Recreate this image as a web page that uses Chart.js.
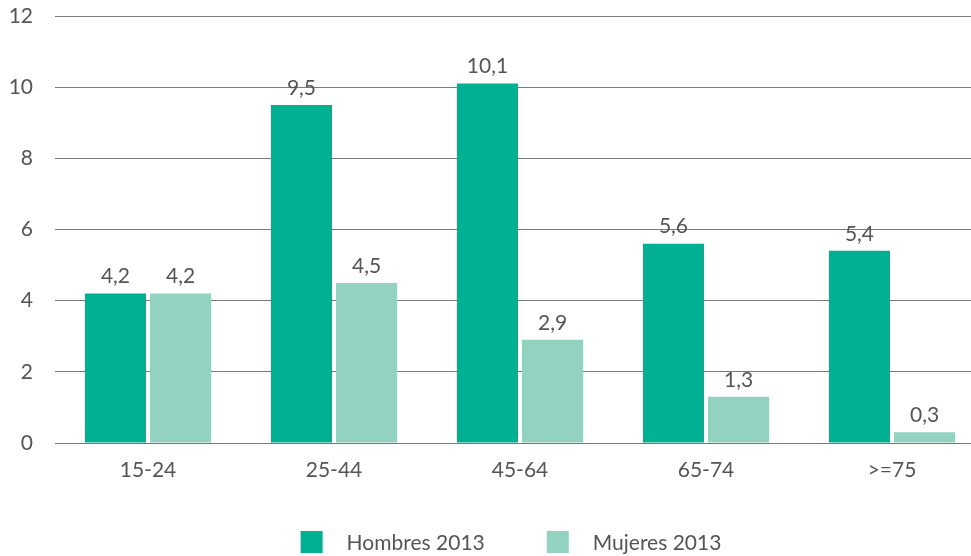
<!DOCTYPE html>
<html>
<head>
<meta charset="utf-8">
<script src="https://cdn.jsdelivr.net/npm/chart.js@4/dist/chart.umd.min.js"></script>
<style>
html,body{margin:0;padding:0;background:#fff;overflow:hidden;}
#wrap{width:1000px;height:556px;position:relative;}
</style>
</head>
<body>
<div id="wrap"><canvas id="c"></canvas></div>
<script>
const categories = ['15-24', '25-44', '45-64', '65-74', '>=75'];
const hombres2013 = [4.2, 9.5, 10.1, 5.6, 5.4];
const mujeres2013 = [4.2, 4.5, 2.9, 1.3, 0.3];
const seriesNames = ['Hombres 2013', 'Mujeres 2013'];
const yTicks = [0, 2, 4, 6, 8, 10, 12];

const FONT = 'Lato, "Noto Sans", sans-serif';
const FS = 21;
const TXT = '#555555';
const COLORS = ['#00b092', '#93d2c1'];

const fmt = v => String(v).replace('.', ',');

const valueLabels = {
  id: 'valueLabels',
  afterDatasetsDraw(chart) {
    const ctx = chart.ctx;
    ctx.save();
    ctx.font = FS + 'px ' + FONT;
    ctx.fillStyle = TXT;
    ctx.textAlign = 'center';
    ctx.textBaseline = 'middle';
    chart.data.datasets.forEach((ds, i) => {
      chart.getDatasetMeta(i).data.forEach((bar, j) => {
        ctx.fillText(fmt(ds.data[j]), bar.x, bar.y - 17);
      });
    });
    ctx.restore();
  }
};

const customLegend = {
  id: 'customLegend',
  afterDraw(chart) {
    const ctx = chart.ctx;
    ctx.save();
    ctx.font = FS + 'px ' + FONT;
    ctx.textBaseline = 'middle';
    const box = 22, gap = 24, itemGap = 62;
    const items = chart.data.datasets.map(ds => ({ label: ds.label, color: ds.backgroundColor, w: box + gap + ctx.measureText(ds.label).width }));
    const total = items.reduce((s, it) => s + it.w, 0) + itemGap * (items.length - 1);
    let x = (chart.chartArea.left + chart.chartArea.right) / 2 - 9 - total / 2;
    const cy = 542;
    items.forEach(it => {
      ctx.fillStyle = it.color;
      ctx.fillRect(x, cy - box / 2, box, box);
      ctx.fillStyle = TXT;
      ctx.textAlign = 'left';
      ctx.fillText(it.label, x + box + gap, cy + 1);
      x += it.w + itemGap;
    });
    ctx.restore();
  }
};

new Chart(document.getElementById('c'), {
  type: 'bar',
  data: {
    labels: categories,
    datasets: [
      { label: seriesNames[0], data: hombres2013, backgroundColor: COLORS[0] },
      { label: seriesNames[1], data: mujeres2013, backgroundColor: COLORS[1] }
    ]
  },
  options: {
    responsive: true,
    maintainAspectRatio: false,
    animation: false,
    layout: { padding: { top: 16, right: 15, bottom: 73, left: 0 } },
    plugins: {
      legend: { display: false },
      tooltip: { enabled: false }
    },
    datasets: { bar: { categoryPercentage: 0.70, barPercentage: 0.94 } },
    scales: {
      x: {
        grid: { display: false, drawTicks: false },
        border: { display: false },
        ticks: { color: TXT, font: { family: FONT, size: FS }, padding: 15 },
        afterFit(s) { s.height = 40; s.paddingLeft = 0; s.paddingRight = 0; }
      },
      y: {
        min: 0, max: 12,
        afterBuildTicks(s) { s.ticks = yTicks.map(v => ({ value: v })); },
        grid: { color: '#7a7a7a', lineWidth: 1, drawTicks: false },
        border: { display: false },
        ticks: { color: TXT, font: { family: FONT, size: FS }, padding: 22 },
        afterFit(s) { s.width = 55; s.paddingTop = 0; s.paddingBottom = 0; }
      }
    }
  },
  plugins: [valueLabels, customLegend]
});
</script>
</body>
</html>
